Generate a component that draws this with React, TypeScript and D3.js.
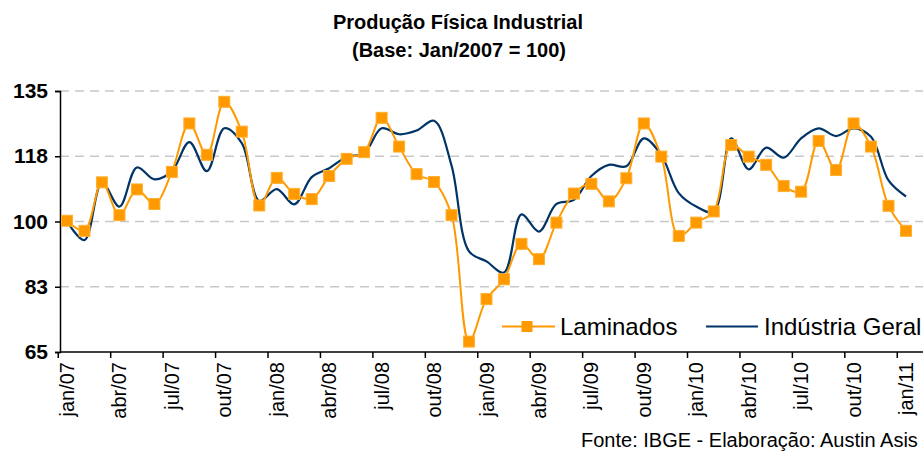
import React, { useEffect, useRef } from "react";
import * as d3 from "d3";

const months = ["jan", "fev", "mar", "abr", "mai", "jun", "jul", "ago", "set", "out", "nov", "dez"];
const years = ["07", "08", "09", "10", "11"];

const laminados = [
  100.2, 97.5, 110.5, 101.7, 108.6, 104.7, 113.3, 126.3, 117.9, 132.1, 124.1, 104.3,
  111.7, 107.4, 106, 112.2, 116.8, 118.6, 127.8, 120.1, 112.7, 110.6, 101.7, 67.8,
  79.2, 84.5, 94, 89.9, 99.7, 107.5, 110.1, 105.4, 111.6, 126.3, 117.4, 96.1,
  99.7, 102.7, 120.5, 117.4, 115.2, 109.5, 108, 121.6, 113.8, 126.3, 120.1, 104.2,
  97.5,
];

const industria = [
  100, 95, 110.5, 104, 114.5, 111.3, 113.5, 121.3, 113.5, 125, 121, 105.5,
  108.7, 104.6, 111.9, 114.3, 117.3, 118.3, 125, 123.4, 124.4, 127, 115, 92,
  89.3, 86.3, 101.9, 97.3, 104.7, 105.8, 112.2, 115.2, 114.8, 122.3, 117.8, 107.6,
  104, 102.6, 122.3, 114, 119.8, 117.1, 122.3, 125, 122.9, 125, 122.7, 111,
  106.7,
];

const yTicks = [65, 82.5, 100, 117.5, 135];

// jan/07 ... jan/11
const categories: string[] = [];
years.forEach((y) => months.forEach((m) => categories.push(m + "/" + y)));
categories.length = laminados.length;

const ORANGE = "#FF9900";
const NAVY = "#003366";

export default function App() {
  const svgRef = useRef<SVGSVGElement>(null);

  useEffect(() => {
    document.body.style.margin = "0";
    const width = 923;
    const font = "Arial, 'Liberation Sans', sans-serif";

    const svg = d3.select(svgRef.current);
    svg.selectAll("*").remove();

    const x = d3.scalePoint<string>().domain(categories).range([67, 906]);
    const y = d3.scaleLinear().domain([65, 135]).range([352, 91]);
    const step = x.step();
    const left = 60;

    // grid
    svg.append("g")
      .selectAll("line")
      .data(yTicks.slice(1))
      .join("line")
      .attr("x1", left)
      .attr("x2", width)
      .attr("y1", (d) => y(d))
      .attr("y2", (d) => y(d))
      .attr("stroke", "#C8C8C8")
      .attr("stroke-width", 1.5)
      .attr("stroke-dasharray", "9,6");

    // y axis
    const yAxis = d3.axisLeft(y)
      .tickValues(yTicks)
      .tickSize(5)
      .tickPadding(7)
      .tickFormat((d) => d3.format(".0f")(d as number));
    const gy = svg.append("g").attr("transform", `translate(${left},0)`).call(yAxis);
    gy.select(".domain").attr("stroke", "#000").attr("stroke-width", 1.5);
    gy.selectAll(".tick line").attr("stroke", "#000").attr("stroke-width", 1.5);
    gy.selectAll("text")
      .attr("font-family", font)
      .attr("font-size", 21)
      .attr("font-weight", "bold")
      .attr("fill", "#000");

    // x axis
    svg.append("line")
      .attr("x1", left)
      .attr("x2", width)
      .attr("y1", y(65))
      .attr("y2", y(65))
      .attr("stroke", "#000")
      .attr("stroke-width", 1.5);

    const every3 = categories.filter((_, i) => i % 3 === 0);
    svg.append("g")
      .selectAll("line")
      .data(every3)
      .join("line")
      .attr("x1", (d) => (x(d) as number) - step / 2)
      .attr("x2", (d) => (x(d) as number) - step / 2)
      .attr("y1", y(65))
      .attr("y2", y(65) + 6)
      .attr("stroke", "#000")
      .attr("stroke-width", 1.5);

    svg.append("g")
      .selectAll("text")
      .data(every3)
      .join("text")
      .attr("transform", (d) => `translate(${x(d)},${y(65) + 10}) rotate(-90)`)
      .attr("text-anchor", "end")
      .attr("dy", "0.35em")
      .attr("font-family", font)
      .attr("font-size", 20)
      .attr("fill", "#000")
      .text((d) => d);

    const curve = d3.curveCatmullRom.alpha(0.5);

    const line = d3.line<number>()
      .x((_, i) => x(categories[i]) as number)
      .y((d) => y(d))
      .curve(curve);

    // Indústria Geral
    svg.append("path")
      .datum(industria)
      .attr("d", line)
      .attr("fill", "none")
      .attr("stroke", NAVY)
      .attr("stroke-width", 2.2);

    // Laminados
    svg.append("path")
      .datum(laminados)
      .attr("d", line)
      .attr("fill", "none")
      .attr("stroke", ORANGE)
      .attr("stroke-width", 2);

    const sq = 11;
    svg.append("g")
      .selectAll("rect")
      .data(laminados)
      .join("rect")
      .attr("x", (_, i) => (x(categories[i]) as number) - sq / 2)
      .attr("y", (d) => y(d) - sq / 2)
      .attr("width", sq)
      .attr("height", sq)
      .attr("fill", ORANGE)
      .attr("stroke", "#FFB030")
      .attr("stroke-width", 1);

    // legend
    const ly = 326.5;
    const leg = svg.append("g").attr("font-family", font).attr("font-size", 24).attr("fill", "#000");
    leg.append("line").attr("x1", 502).attr("x2", 555).attr("y1", ly).attr("y2", ly)
      .attr("stroke", ORANGE).attr("stroke-width", 2);
    leg.append("rect").attr("x", 527 - sq / 2).attr("y", ly - sq / 2).attr("width", sq).attr("height", sq)
      .attr("fill", ORANGE);
    leg.append("text").attr("x", 560).attr("y", ly + 8).text("Laminados");
    leg.append("line").attr("x1", 706).attr("x2", 758).attr("y1", ly).attr("y2", ly)
      .attr("stroke", NAVY).attr("stroke-width", 2.2);
    leg.append("text").attr("x", 764).attr("y", ly + 8).text("Indústria Geral");

    // title
    const title = svg.append("g")
      .attr("font-family", font)
      .attr("font-size", 20)
      .attr("font-weight", "bold")
      .attr("text-anchor", "middle")
      .attr("fill", "#000");
    title.append("text").attr("x", 458).attr("y", 29).text("Produção Física Industrial");
    title.append("text").attr("x", 459).attr("y", 57).text("(Base: Jan/2007 = 100)");

    // source
    svg.append("text")
      .attr("x", 581)
      .attr("y", 447)
      .attr("font-family", font)
      .attr("font-size", 20)
      .attr("fill", "#000")
      .text("Fonte: IBGE - Elaboração: Austin Asis");
  }, []);

  return <svg ref={svgRef} width={923} height={452} style={{ display: "block", background: "#fff" }} />;
}
